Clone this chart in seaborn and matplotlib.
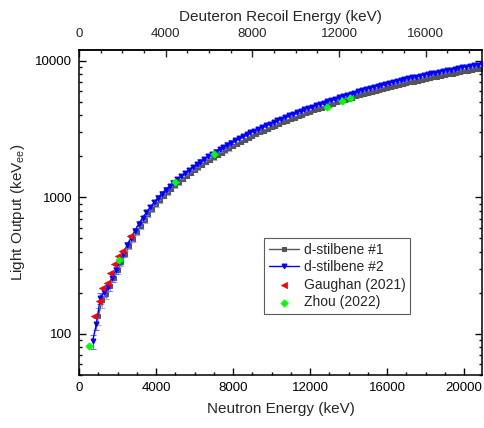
import matplotlib
matplotlib.use('Agg')
import matplotlib.pyplot as plt
import matplotlib.ticker as mticker
import seaborn as sb
import numpy as np
import pandas as pd

# d-stilbene #2 (blue), neutron energy in keV and light output in keVee
e_stil2 = [700, 900, 1100, 1300, 1500, 1700, 1900, 2100, 2300, 2500,
           2700, 2900, 3100, 3300, 3500, 3700, 3900, 4100, 4300, 4500,
           4700, 4900, 5100, 5300, 5500, 5700, 5900, 6100, 6300, 6500,
           6700, 6900, 7100, 7300, 7500, 7700, 7900, 8100, 8300, 8500,
           8700, 8900, 9100, 9300, 9500, 9700, 9900, 10100, 10300, 10500,
           10700, 10900, 11100, 11300, 11500, 11700, 11900, 12100, 12300, 12500,
           12700, 12900, 13100, 13300, 13500, 13700, 13900, 14100, 14300, 14500,
           14700, 14900, 15100, 15300, 15500, 15700, 15900, 16100, 16300, 16500,
           16700, 16900, 17100, 17300, 17500, 17700, 17900, 18100, 18300, 18500,
           18700, 18900, 19100, 19300, 19500, 19700, 19900, 20100, 20300, 20500,
           20700, 20900]
lo_stil2 = [88, 118, 183, 203, 220, 258, 293, 336, 386, 450,
            505, 570, 640, 708, 778, 848, 920, 995, 1065, 1140,
            1210, 1280, 1355, 1430, 1510, 1590, 1665, 1745, 1830, 1915,
            1995, 2080, 2165, 2255, 2345, 2430, 2520, 2615, 2705, 2800,
            2895, 2990, 3085, 3180, 3280, 3375, 3475, 3575, 3675, 3775,
            3880, 3985, 4090, 4195, 4300, 4405, 4510, 4620, 4730, 4840,
            4950, 5060, 5170, 5285, 5400, 5515, 5625, 5740, 5860, 5975,
            6095, 6210, 6330, 6450, 6570, 6690, 6810, 6925, 7030, 7140,
            7245, 7355, 7460, 7565, 7675, 7780, 7890, 7995, 8100, 8210,
            8315, 8425, 8530, 8635, 8745, 8850, 8960, 9065, 9170, 9280,
            9385, 9495]
err_pct_stil2 = [12, 10, 9, 8, 7, 7, 6, 5, 5, 5,
                 5, 5, 4, 4, 4, 4, 4, 4, 4, 4,
                 4, 4, 4, 4, 4, 4, 4, 4, 4, 4,
                 4, 4, 4, 4, 4, 4, 4, 3, 3, 3,
                 3, 3, 3, 3, 3, 3, 3, 3, 3, 3,
                 3, 3, 3, 3, 3, 3, 3, 3, 3, 3,
                 3, 3, 3, 3, 3, 3, 3, 3, 3, 3,
                 3, 3, 3, 3, 3, 3, 3, 3, 3, 3,
                 3, 3, 3, 3, 3, 3, 3, 3, 3, 3,
                 3, 3, 3, 3, 3, 3, 3, 3, 3, 3,
                 3, 3]

# d-stilbene #1 (gray)
e_stil1 = [1000, 1200, 1400, 1600, 1800, 2000, 2200, 2400, 2600, 2800,
           3000, 3200, 3400, 3600, 3800, 4000, 4200, 4400, 4600, 4800,
           5000, 5200, 5400, 5600, 5800, 6000, 6200, 6400, 6600, 6800,
           7000, 7200, 7400, 7600, 7800, 8000, 8200, 8400, 8600, 8800,
           9000, 9200, 9400, 9600, 9800, 10000, 10200, 10400, 10600, 10800,
           11000, 11200, 11400, 11600, 11800, 12000, 12200, 12400, 12600, 12800,
           13000, 13200, 13400, 13600, 13800, 14000, 14200, 14400, 14600, 14800,
           15000, 15200, 15400, 15600, 15800, 16000, 16200, 16400, 16600, 16800,
           17000, 17200, 17400, 17600, 17800, 18000, 18200, 18400, 18600, 18800,
           19000, 19200, 19400, 19600, 19800, 20000, 20200, 20400, 20600, 20800]
lo_stil1 = [135, 176, 197, 224, 257, 293, 336, 385, 438, 495,
            558, 622, 685, 752, 820, 888, 955, 1022, 1090, 1158,
            1226, 1294, 1366, 1443, 1516, 1588, 1660, 1737, 1815, 1892,
            1970, 2047, 2129, 2211, 2293, 2376, 2463, 2550, 2637, 2724,
            2811, 2898, 2990, 3082, 3174, 3266, 3358, 3455, 3552, 3649,
            3746, 3843, 3945, 4042, 4144, 4245, 4347, 4449, 4551, 4652,
            4759, 4861, 4967, 5074, 5176, 5282, 5389, 5495, 5602, 5708,
            5815, 5921, 6028, 6134, 6241, 6342, 6444, 6546, 6648, 6749,
            6851, 6953, 7054, 7156, 7258, 7359, 7461, 7563, 7665, 7766,
            7868, 7970, 8071, 8173, 8275, 8376, 8478, 8580, 8682, 8783]
err_pct_stil1 = [14, 12, 9, 8, 7, 6, 6, 5, 5, 5,
                 5, 5, 5, 4, 4, 4, 4, 4, 4, 4,
                 4, 4, 4, 4, 4, 4, 4, 4, 4, 4,
                 4, 4, 4, 4, 4, 4, 4, 4, 3, 3,
                 3, 3, 3, 3, 3, 3, 3, 3, 3, 3,
                 3, 3, 3, 3, 3, 3, 3, 3, 3, 3,
                 3, 3, 3, 3, 3, 3, 3, 3, 3, 3,
                 3, 3, 3, 3, 3, 3, 3, 3, 3, 3,
                 3, 3, 3, 3, 3, 3, 3, 3, 3, 3,
                 3, 3, 3, 3, 3, 3, 3, 3, 3, 3]

# literature data
e_gaughan = [800, 1040, 1210, 1440, 1610, 1840, 2010, 2220, 2620]
lo_gaughan = [136, 174, 217, 237, 280, 323, 371, 405, 519]
e_zhou = [520, 2080, 4990, 7010, 12900, 13650, 14080]
lo_zhou = [82, 347, 1300, 2070, 4615, 5050, 5345]

sb.set_theme(style='ticks')
plt.rcParams['font.family'] = ['Liberation Sans', 'DejaVu Sans']
plt.rcParams['mathtext.fontset'] = 'custom'
plt.rcParams['mathtext.rm'] = 'Liberation Sans'

df1 = pd.DataFrame({'E': e_stil1, 'LO': lo_stil1, 'err': np.array(lo_stil1) * np.array(err_pct_stil1) / 100})
df2 = pd.DataFrame({'E': e_stil2, 'LO': lo_stil2, 'err': np.array(lo_stil2) * np.array(err_pct_stil2) / 100})

fig = plt.figure(figsize=(4.85, 4.28), dpi=100)
ax = fig.add_axes([0.163, 0.124, 0.831, 0.759])

# error bars first, then lines + markers
ax.errorbar(df1['E'], df1['LO'], yerr=df1['err'], fmt='none', ecolor='#b0b0b0',
            elinewidth=0.8, capsize=2, capthick=0.8, zorder=1)
sb.lineplot(data=df1, x='E', y='LO', color='#555555', marker='s', markersize=2.5,
            markeredgecolor='#555555', linewidth=1, label='d-stilbene #1', ax=ax, zorder=2)
ax.errorbar(df2['E'], df2['LO'], yerr=df2['err'], fmt='none', ecolor='#6a6aff',
            elinewidth=0.8, capsize=2, capthick=0.8, zorder=3)
sb.lineplot(data=df2, x='E', y='LO', color='#0000ff', marker='v', markersize=3.5,
            markeredgecolor='#0000ff', linewidth=1, label='d-stilbene #2', ax=ax, zorder=4)
sb.scatterplot(x=e_gaughan, y=lo_gaughan, color='#ff0000', marker='<', s=20,
               edgecolor='#ff0000', linewidth=0.5, label='Gaughan (2021)', ax=ax, zorder=5)
sb.scatterplot(x=e_zhou, y=lo_zhou, color='#00ff00', marker='D', s=14,
               edgecolor='#00ff00', linewidth=0.5, label='Zhou (2022)', ax=ax, zorder=6)

ax.set_yscale('log')
ax.set_xlim(0, 20930)
ax.set_ylim(50, 12000)
ax.set_xticks([0, 4000, 8000, 12000, 16000, 20000])
ax.xaxis.set_minor_locator(mticker.MultipleLocator(1000))
ax.set_yticks([100, 1000, 10000])
ax.yaxis.set_major_formatter(mticker.FuncFormatter(lambda v, p: f'{v:.0f}'))
ax.yaxis.set_minor_locator(mticker.LogLocator(base=10, subs=np.arange(2, 10)))
ax.yaxis.set_minor_formatter(mticker.NullFormatter())
ax.tick_params(which='both', direction='in', top=False, right=True, labelsize=9.5,
               colors='black', width=1)
ax.tick_params(which='major', length=5, pad=5)
ax.tick_params(which='minor', length=2.5)
for sp in ax.spines.values():
    sp.set_color('black')
    sp.set_linewidth(1.1)

ax.set_xlabel('Neutron Energy (keV)', fontsize=11, labelpad=6)
ax.set_ylabel('Light Output (keV$\\mathrm{_{ee}}$)', fontsize=11, labelpad=6)

# top axis: maximum deuteron recoil energy = 8/9 of neutron energy
secax = ax.secondary_xaxis('top', functions=(lambda x: x * 8 / 9, lambda x: x * 9 / 8))
secax.set_xticks([0, 4000, 8000, 12000, 16000])
secax.xaxis.set_minor_locator(mticker.MultipleLocator(1000))
secax.tick_params(which='both', direction='in', labelsize=9.5, width=1)
secax.tick_params(which='major', length=5, pad=7.5)
secax.tick_params(which='minor', length=2.5)
secax.set_xlabel('Deuteron Recoil Energy (keV)', fontsize=11, labelpad=5)

leg = ax.legend(loc='upper left', bbox_to_anchor=(0.459, 0.4215), fontsize=10,
                frameon=True, fancybox=False, edgecolor='#333333', handlelength=2.2,
                handletextpad=0.3, borderpad=0.35, labelspacing=0.25, borderaxespad=0)
leg.get_frame().set_linewidth(0.8)

fig.savefig('out.png', dpi=100)
